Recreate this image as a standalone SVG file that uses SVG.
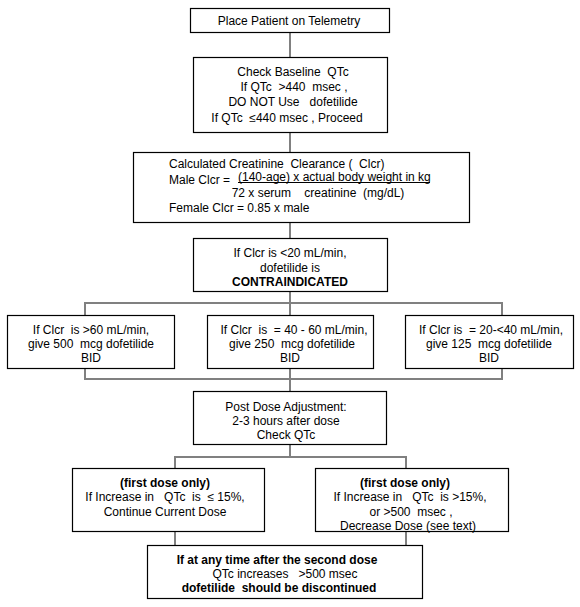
<svg xmlns="http://www.w3.org/2000/svg" width="580" height="607" viewBox="0 0 580 607">
<style>
rect.box{fill:#fff;stroke:#000;stroke-width:1.2}
.c{fill:none;stroke:#808080;stroke-width:2}
text{font-family:"Liberation Sans",Arial,sans-serif;font-size:12px;fill:#000;white-space:pre}
.m{text-anchor:middle}
.b{font-weight:bold}
</style>
<rect width="580" height="607" fill="#fff"/>
<g id="connectors">
<path class="c" d="M290,32V57 M290,132V152 M290,222V238 M290,291V391"/>
<path class="c" d="M85,315V303H502V315 M85,368V379H502V368"/>
<path class="c" d="M290,444V457 M175,468V457H406V468 M175,531V545 M406,531V545"/>
</g>
<g id="n1">
<rect class="box" x="190.5" y="8.5" width="199" height="24"/>
<text class="m" x="289" y="25">Place Patient on Telemetry</text>
</g>
<g id="n2">
<rect class="box" x="193.5" y="57.5" width="194" height="75"/>
<text class="m" x="293" y="76">Check Baseline  QTc</text>
<text class="m" x="294" y="91">If QTc  &gt;440  msec ,</text>
<text class="m" x="293" y="105.5">DO NOT Use   dofetilide</text>
<text class="m" x="287" y="122">If QTc  ≤440 msec , Proceed</text>
</g>
<g id="n3">
<rect class="box" x="133.5" y="152.5" width="336" height="70"/>
<text x="169" y="167.5">Calculated Creatinine  Clearance (  Clcr)</text>
<text x="169" y="184">Male Clcr = </text>
<text x="238" y="180.5">(140-age) x actual body weight in kg</text>
<line x1="238" y1="182.5" x2="430" y2="182.5" stroke="#000" stroke-width="1"/>
<text class="m" x="318" y="197">72 x serum    creatinine  (mg/dL)</text>
<text x="169" y="212">Female Clcr = 0.85 x male</text>
</g>
<g id="n4">
<rect class="box" x="193.5" y="238.5" width="194" height="53"/>
<text class="m" x="290" y="257">If Clcr is &lt;20 mL/min,</text>
<text class="m" x="290" y="271.5">dofetilide is</text>
<text class="m b" x="290" y="285.5">CONTRAINDICATED</text>
</g>
<g id="n5">
<rect class="box" x="7.5" y="315.5" width="167" height="53"/>
<text class="m" x="91" y="334">If Clcr  is &gt;60 mL/min,</text>
<text class="m" x="91" y="348">give 500  mcg dofetilide</text>
<text class="m" x="91" y="362">BID</text>
</g>
<g id="n6">
<rect class="box" x="207.5" y="315.5" width="166" height="53"/>
<text class="m" x="294" y="334">If Clcr  is  = 40 - 60 mL/min,</text>
<text class="m" x="292" y="348">give 250  mcg dofetilide</text>
<text class="m" x="290" y="362">BID</text>
</g>
<g id="n7">
<rect class="box" x="405.5" y="315.5" width="168" height="53"/>
<text class="m" x="491" y="334">If Clcr is  = 20-&lt;40 mL/min,</text>
<text class="m" x="489" y="348">give 125  mcg dofetilide</text>
<text class="m" x="489" y="362">BID</text>
</g>
<g id="n8">
<rect class="box" x="193.5" y="391.5" width="193" height="53"/>
<text class="m" x="286" y="411">Post Dose Adjustment:</text>
<text class="m" x="286" y="425">2-3 hours after dose</text>
<text class="m" x="286" y="438.5">Check QTc</text>
</g>
<g id="n9">
<rect class="box" x="72.5" y="468.5" width="192" height="63"/>
<text class="m b" x="165" y="487">(first dose only)</text>
<text class="m" x="165" y="501">If Increase in   QTc  is  ≤ 15%,</text>
<text class="m" x="165" y="516">Continue Current Dose</text>
</g>
<g id="n10">
<rect class="box" x="315.5" y="468.5" width="193" height="63"/>
<text class="m b" x="405" y="487">(first dose only)</text>
<text class="m" x="410" y="501">If Increase in   QTc  is &gt;15%,</text>
<text class="m" x="411" y="516">or &gt;500  msec ,</text>
<text class="m" x="408" y="530">Decrease Dose (see text)</text>
</g>
<g id="n11">
<rect class="box" x="147.5" y="545.5" width="275" height="53"/>
<text class="m b" x="277" y="564">If at any time after the second dose</text>
<text class="m" x="285" y="578">QTc increases   &gt;500 msec</text>
<text class="m b" x="279" y="592">dofetilide  should be discontinued</text>
</g>
</svg>
